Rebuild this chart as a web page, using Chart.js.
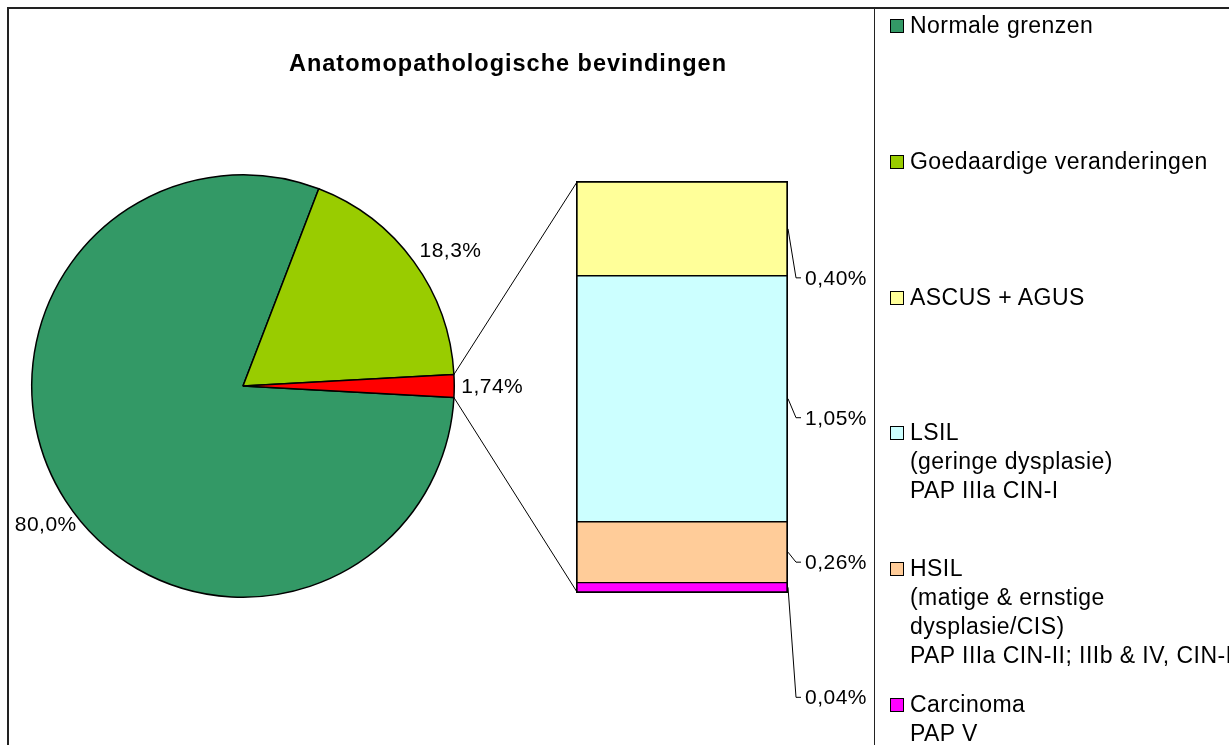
<!DOCTYPE html>
<html>
<head>
<meta charset="utf-8">
<script src="https://cdn.jsdelivr.net/npm/chart.js@4/dist/chart.umd.min.js"></script>
<style>
  html, body { margin: 0; padding: 0; background: #fff; }
  body { width: 1229px; height: 745px; position: relative; overflow: hidden; font-family: "Liberation Sans", Arial, sans-serif; }
  #frame { position: absolute; left: 7px; top: 7px; width: 1240px; height: 760px; border-top: 2px solid #222; border-left: 2px solid #222; }
  #legendBox { position: absolute; left: 874px; top: 8px; width: 400px; height: 760px; border-left: 1px solid #222; }
  canvas { position: absolute; left: 0; top: 0; }
  #title { position: absolute; left: 258px; top: 50px; width: 500px; text-align: center; font-weight: bold; font-size: 23.5px; letter-spacing: 1px; color: #000; }
  .entry { position: absolute; left: 890px; font-size: 23px; line-height: 29px; letter-spacing: 0.45px; color: #000; white-space: nowrap; }
  .entry .sw { position: absolute; left: 0; top: 8px; width: 12px; height: 12px; border: 1px solid #000; }
  .entry .txt { margin-left: 20px; }
</style>
</head>
<body>
<div id="frame"></div>
<div id="legendBox"></div>
<canvas id="pie" width="1229" height="745"></canvas>
<canvas id="bar" width="1229" height="745"></canvas>
<div id="title">Anatomopathologische bevindingen</div>
<div id="legend"></div>
<script>
// pie: main categories (last slice is split out in the bar)
const pieLabels = ['Normale grenzen', 'Goedaardige veranderingen', 'Afwijkend'];
const pieValues = [80.0, 18.3, 1.74];
const pieColors = ['#339966', '#99CC00', '#FF0000'];

// bar: breakdown of the split slice, top to bottom
const barLabels = [
  ['ASCUS + AGUS'],
  ['LSIL', '(geringe dysplasie)', 'PAP IIIa CIN-I'],
  ['HSIL', '(matige & ernstige', 'dysplasie/CIS)', 'PAP IIIa CIN-II; IIIb & IV, CIN-III'],
  ['Carcinoma', 'PAP V']
];
const barValues = [0.40, 1.05, 0.26, 0.04];
const barColors = ['#FFFF99', '#CCFFFF', '#FFCC99', '#FF00FF'];

const fmt = (v, d) => v.toFixed(d).replace('.', ',') + '%';
const FONT = '"Liberation Sans", Arial, sans-serif';

// legend
const legendItems = [
  { lines: [pieLabels[0]], color: pieColors[0] },
  { lines: [pieLabels[1]], color: pieColors[1] }
].concat(barLabels.map((l, i) => ({ lines: l, color: barColors[i] })));
const legendEl = document.getElementById('legend');
legendItems.forEach((it, i) => {
  const d = document.createElement('div');
  d.className = 'entry';
  d.style.top = (11 + i * 135.8) + 'px';
  d.innerHTML = '<div class="sw" style="background:' + it.color + '"></div><div class="txt">' +
    it.lines.map(s => s.replace(/&/g, '&amp;')).join('<br>') + '</div>';
  legendEl.appendChild(d);
});

// pie value labels, outside the slices
const pieLabelPlugin = {
  id: 'pieLabels',
  afterDatasetsDraw(chart, args, opts) {
    const ctx = chart.ctx;
    const meta = chart.getDatasetMeta(0);
    ctx.save();
    ctx.font = '21px ' + FONT;
    ctx.letterSpacing = '0.5px';
    ctx.fillStyle = '#000';
    ctx.textBaseline = 'middle';
    ctx.textAlign = 'center';
    meta.data.forEach((arc, i) => {
      const a = (arc.startAngle + arc.endAngle) / 2;
      const r = arc.outerRadius + 7;
      const txt = pieValues[i].toPrecision(3).replace('.', ',') + '%';
      const w = ctx.measureText(txt).width;
      const h = 20;
      const nudge = opts.nudge[i];
      const x = arc.x + r * Math.cos(a) + (w / 2) * Math.cos(a) + nudge[0];
      const y = arc.y + r * Math.sin(a) + (h / 2) * Math.sin(a) + nudge[1];
      ctx.fillText(txt, x, y);
    });
    ctx.restore();
  }
};

const total = pieValues.reduce((a, b) => a + b, 0);
const pieChart = new Chart(document.getElementById('pie'), {
  type: 'pie',
  data: {
    labels: pieLabels,
    datasets: [{
      data: pieValues,
      backgroundColor: pieColors,
      borderColor: '#000',
      borderWidth: 1.5
    }]
  },
  options: {
    responsive: false,
    animation: false,
    // split slice centred on the right side
    rotation: 90 + (pieValues[2] / total) * 180,
    layout: { padding: { left: 31, top: 174, right: 774, bottom: 147 } },
    plugins: {
      legend: { display: false },
      tooltip: { enabled: false },
      pieLabels: { nudge: [[12, 15], [6, 0], [0, 1]] }
    }
  },
  plugins: [pieLabelPlugin]
});

// connector lines + bar value labels
const barOverlay = {
  id: 'barOverlay',
  afterDatasetsDraw(chart, args, opts) {
    const ctx = chart.ctx;
    const n = barValues.length;
    const topBar = chart.getDatasetMeta(n - 1).data[0];
    const botBar = chart.getDatasetMeta(0).data[0];
    const left = topBar.x - topBar.width / 2;
    const right = topBar.x + topBar.width / 2;
    const arc = pieChart.getDatasetMeta(0).data[2];
    ctx.save();
    ctx.strokeStyle = '#000';
    // outer outline of the stacked bar
    ctx.lineWidth = 1;
    ctx.strokeRect(left - 0.5, topBar.y - 0.5, right - left + 1, botBar.base - topBar.y + 1);

    const p1 = [arc.x + arc.outerRadius * Math.cos(arc.startAngle), arc.y + arc.outerRadius * Math.sin(arc.startAngle)];
    const p2 = [arc.x + arc.outerRadius * Math.cos(arc.endAngle), arc.y + arc.outerRadius * Math.sin(arc.endAngle)];
    ctx.beginPath();
    ctx.moveTo(p1[0], p1[1]); ctx.lineTo(left, topBar.y);
    ctx.moveTo(p2[0], p2[1]); ctx.lineTo(left, botBar.base);
    ctx.stroke();

    ctx.font = '21px ' + FONT;
    ctx.letterSpacing = '0.5px';
    ctx.fillStyle = '#000';
    ctx.textBaseline = 'middle';
    ctx.textAlign = 'left';
    barValues.forEach((v, i) => {
      const el = chart.getDatasetMeta(n - 1 - i).data[0];
      const mid = (el.y + el.base) / 2;
      const ly = mid + opts.offsets[i];
      ctx.beginPath();
      ctx.moveTo(right + 1, mid);
      ctx.lineTo(right + 9, ly);
      ctx.lineTo(right + 14, ly);
      ctx.stroke();
      ctx.fillText(fmt(v, 2), right + 18, ly + 1);
    });
    ctx.restore();
  }
};

// datasets bottom-up for stacking
const order = barValues.map((_, i) => i).reverse();
new Chart(document.getElementById('bar'), {
  type: 'bar',
  data: {
    labels: [''],
    datasets: order.map(i => ({
      label: barLabels[i][0],
      data: [barValues[i]],
      backgroundColor: barColors[i],
      borderColor: '#000',
      borderWidth: 1,
      borderSkipped: false,
      barPercentage: 1,
      categoryPercentage: 1
    }))
  },
  options: {
    responsive: false,
    animation: false,
    layout: { padding: { left: 577, top: 182, right: 442, bottom: 153 } },
    scales: {
      x: { display: false, stacked: true },
      y: { display: false, stacked: true, min: 0, max: barValues.reduce((a, b) => a + b, 0) }
    },
    plugins: {
      legend: { display: false },
      tooltip: { enabled: false },
      barOverlay: { offsets: [49, 19, 10, 110] }
    }
  },
  plugins: [barOverlay]
});
</script>
</body>
</html>
